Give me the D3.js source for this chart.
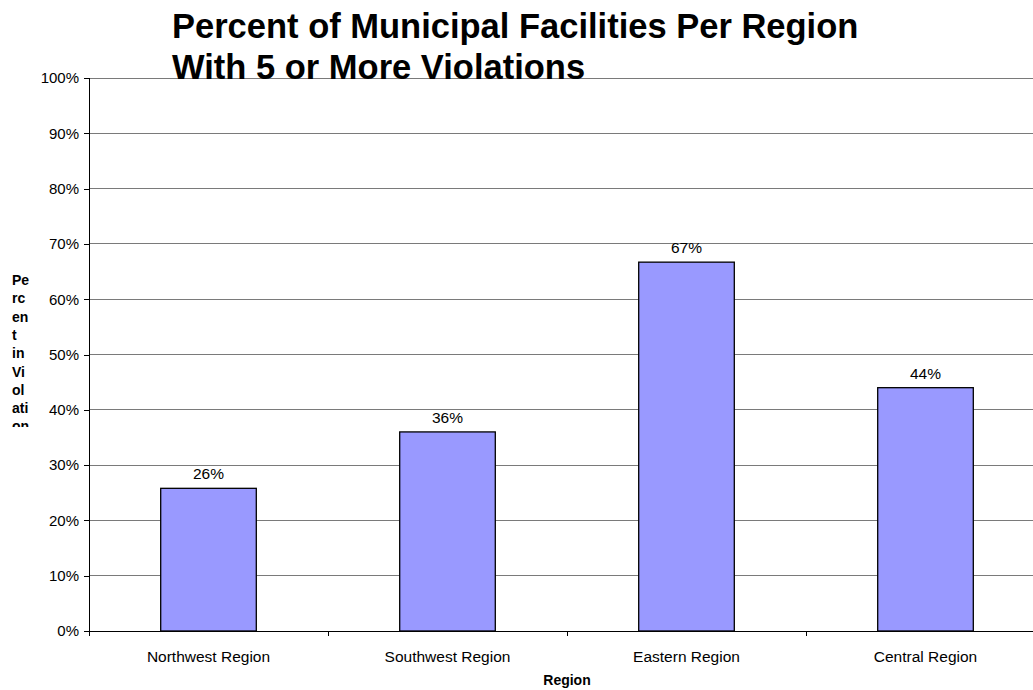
<!DOCTYPE html>
<html><head><meta charset="utf-8">
<script src="https://cdn.jsdelivr.net/npm/d3@7"></script>
<style>body{margin:0;background:#fff;} svg{display:block;font-family:Arial,"Liberation Sans",sans-serif;}</style>
</head><body>
<svg id="c" width="1033" height="690"></svg>
<script>
const categories = ["Northwest Region","Southwest Region","Eastern Region","Central Region"];
const values = [0.258, 0.36, 0.667, 0.44];
const valueLabels = ["26%","36%","67%","44%"];
const yTicks = [0,0.1,0.2,0.3,0.4,0.5,0.6,0.7,0.8,0.9,1.0];
const titleLines = ["Percent of Municipal Facilities Per Region","With 5 or More Violations"];
const yLabelLines = ["Pe","rc","en","t","in","Vi","ol","ati","on"];

const svg = d3.select("#c");
const pLeft = 89, pRight = 1045, pTop = 78, pBottom = 631;
const x = d3.scaleBand().domain(categories).range([pLeft, pRight]).paddingInner(0.6).paddingOuter(0.3);
const xb = d3.scaleBand().domain(categories).range([pLeft, pRight]);
const y = d3.scaleLinear().domain([0,1]).range([pBottom, pTop]);

// gridlines
svg.append("g").selectAll("line").data(yTicks.filter(d=>d>0)).join("line")
  .attr("x1", pLeft).attr("x2", pRight).attr("y1", d=>y(d)).attr("y2", d=>y(d))
  .attr("stroke", "#7a7a7a").attr("stroke-width", 1).attr("shape-rendering","crispEdges");

// y axis
const yAxis = d3.axisLeft(y).tickValues(yTicks).tickFormat(d3.format(".0%")).tickSize(5).tickPadding(5);
const ga = svg.append("g").attr("transform", `translate(${pLeft},0)`).call(yAxis);
ga.select(".domain").attr("stroke","#000").attr("shape-rendering","crispEdges");
ga.selectAll(".tick line").attr("stroke","#000").attr("shape-rendering","crispEdges");
ga.selectAll("text").attr("font-size", 15).attr("fill","#000").attr("font-family","Arial,'Liberation Sans',sans-serif");

// bars
svg.append("g").selectAll("rect").data(values).join("rect")
  .attr("x", (d,i)=>x(categories[i])).attr("width", x.bandwidth())
  .attr("y", d=>y(d)).attr("height", d=>pBottom - y(d))
  .attr("fill","#9999FF").attr("stroke","#000").attr("stroke-width",1.3);

// x axis
svg.append("line").attr("x1",pLeft).attr("x2",pRight).attr("y1",pBottom).attr("y2",pBottom)
  .attr("stroke","#000").attr("shape-rendering","crispEdges");
const bounds = categories.map(c=>xb(c)).concat([pRight]);
svg.append("g").selectAll("line").data(bounds).join("line")
  .attr("x1",d=>d).attr("x2",d=>d).attr("y1",pBottom).attr("y2",pBottom+5)
  .attr("stroke","#000").attr("shape-rendering","crispEdges");
svg.append("g").selectAll("text").data(categories).join("text")
  .attr("x", d=>xb(d)+xb.bandwidth()/2).attr("y", 661.5)
  .attr("text-anchor","middle").attr("font-size",15.5).text(d=>d);

// value labels
svg.append("g").selectAll("text").data(values).join("text")
  .attr("x",(d,i)=>x(categories[i])+x.bandwidth()/2).attr("y", d=>y(d)-9)
  .attr("text-anchor","middle").attr("font-size",15.5).text((d,i)=>valueLabels[i]);

// axis title
svg.append("text").attr("x",(pLeft+pRight)/2).attr("y",685).attr("text-anchor","middle")
  .attr("font-size",14).attr("font-weight","bold").text("Region");

// y title, clipped
svg.append("clipPath").attr("id","yc").append("rect").attr("x",0).attr("y",260).attr("width",60).attr("height",167);
svg.append("g").attr("clip-path","url(#yc)").selectAll("text").data(yLabelLines).join("text")
  .attr("x",12).attr("y",(d,i)=>285+i*18.3).attr("font-size",14).attr("font-weight","bold").text(d=>d);

// chart title
svg.append("g").selectAll("text").data(titleLines).join("text")
  .attr("x",172).attr("y",(d,i)=>38+i*41).attr("font-size",34.5).attr("font-weight","bold").text(d=>d);
</script>
</body></html>
